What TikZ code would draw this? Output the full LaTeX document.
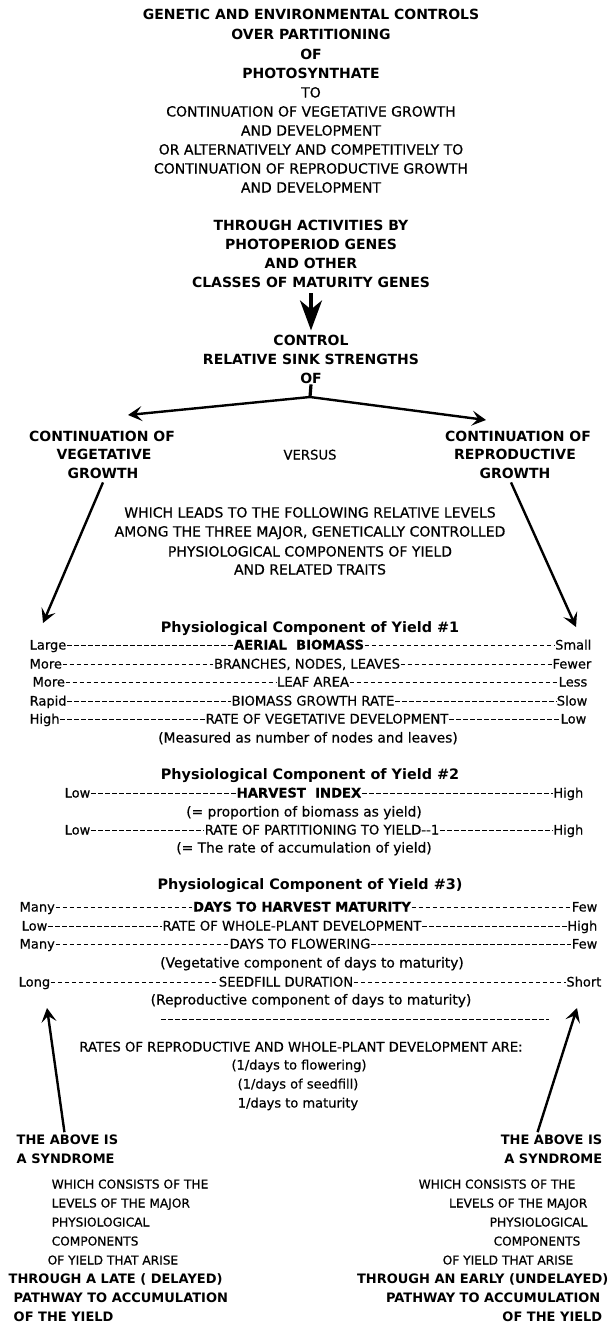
\documentclass[tikz,border=0pt]{standalone}
\usepackage{fontspec}
\setmainfont{DejaVu Sans}
\newfontfamily\medfont[FakeBold=0.5]{DejaVu Sans}
\usetikzlibrary{arrows.meta}
\tikzset{
  tcapL/.style={font=\medfont\fontsize{14}{16}\selectfont, inner sep=0.5pt},
  tcapM/.style={font=\medfont\fontsize{13.2}{15}\selectfont, inner sep=0.5pt},
  tcap/.style={font=\medfont\fontsize{12.2}{14}\selectfont, inner sep=0.5pt},
  tbcapL/.style={font=\fontsize{14}{16}\selectfont\bfseries, inner sep=0.5pt},
  tbcap/.style={font=\fontsize{13}{15}\selectfont\bfseries, inner sep=0.5pt},
  tmix/.style={font=\medfont\fontsize{13.8}{15}\selectfont, inner sep=0.5pt},
  tlab/.style={font=\medfont\fontsize{13}{15}\selectfont, inner sep=0.5pt},
  tbmix/.style={font=\fontsize{14.4}{16}\selectfont\bfseries, inner sep=0.5pt},
  hyph/.style={line width=1pt, dash pattern=on 4.6pt off 2.4pt},
  mainarrow/.style={line width=3.2pt, -{Stealth[length=30pt,width=22pt,inset=9pt]}},
  sidearrow/.style={line width=2.4pt, -{Stealth[length=14pt,width=15pt,inset=6pt]}},
  stub/.style={line width=3.2pt}
}
% name, x, y(center), anchor, style, text
\newcommand{\T}[6]{\node[#5,anchor=#4] (#1) at (#2,{#3+4.5}) {#6};}
% name, y, left x, left text, center x, center text, right x, right text
\newcommand{\R}[8]{%
  \node[tlab,anchor=base west] (#1l) at (#3,{#2+4.5}) {#4};
  \node[tcapM,anchor=base] (#1c) at (#5,{#2+4.5}) {#6};
  \node[tlab,anchor=base east] (#1r) at (#7,{#2+4.5}) {#8};
  \draw[hyph] ([yshift=3.6pt]#1l.base east) -- ([yshift=3.6pt]#1c.base west);
  \draw[hyph] ([yshift=3.6pt]#1c.base east) -- ([yshift=3.6pt]#1r.base west);
}
\begin{document}
\begin{tikzpicture}[x=1pt,y=-1pt]
\useasboundingbox[fill=white] (0,0) rectangle (611,1328);
% title block
\T{t1}{311}{15}{base}{tbcapL}{GENETIC AND ENVIRONMENTAL CONTROLS}
\T{t2}{311}{35}{base}{tbcapL}{OVER PARTITIONING}
\T{t3}{311}{55}{base}{tbcapL}{OF}
\T{t4}{311}{74}{base}{tbcapL}{PHOTOSYNTHATE}
\T{t5}{311}{93}{base}{tcapL}{TO}
\T{t6}{311}{112}{base}{tcapL}{CONTINUATION OF VEGETATIVE GROWTH}
\T{t7}{311}{131}{base}{tcapL}{AND DEVELOPMENT}
\T{t8}{311}{150}{base}{tcapL}{OR ALTERNATIVELY AND COMPETITIVELY TO}
\T{t9}{311}{169}{base}{tcapL}{CONTINUATION OF REPRODUCTIVE GROWTH}
\T{t10}{311}{188}{base}{tcapL}{AND DEVELOPMENT}
\T{g1}{311}{226}{base}{tbcapL}{THROUGH ACTIVITIES BY}
\T{g2}{311}{245}{base}{tbcapL}{PHOTOPERIOD GENES}
\T{g3}{311}{264}{base}{tbcapL}{AND OTHER}
\T{g4}{311}{283}{base}{tbcapL}{CLASSES OF MATURITY GENES}
\T{c1}{311}{341}{base}{tbcapL}{CONTROL}
\T{c2}{311}{360}{base}{tbcapL}{RELATIVE SINK STRENGTHS}
\T{c3}{311}{379}{base}{tbcapL}{OF}
\draw[mainarrow] ([yshift=-5pt]g4.south) -- ([yshift=4pt]c1.north);
\coordinate (br) at (310,397);
\coordinate (tipL) at (128,415);
\coordinate (tipR) at (486,420);
\draw[stub] (c3.south) -- (br);
\draw[sidearrow] (br) -- (tipL);
\draw[sidearrow] (br) -- (tipR);
% two branches
\T{v1}{102}{437}{base}{tbcapL}{CONTINUATION OF}
\T{v2}{104}{455}{base}{tbcapL}{VEGETATIVE}
\T{v3}{103}{474}{base}{tbcapL}{GROWTH}
\T{r1}{518}{437}{base}{tbcapL}{CONTINUATION OF}
\T{r2}{515}{455}{base}{tbcapL}{REPRODUCTIVE}
\T{r3}{515}{474}{base}{tbcapL}{GROWTH}
\T{vs}{310}{455}{base}{tcapM}{VERSUS}
\T{w1}{310}{513}{base}{tcapL}{WHICH LEADS TO THE FOLLOWING RELATIVE LEVELS}
\T{w2}{310}{532}{base}{tcapL}{AMONG THE THREE MAJOR, GENETICALLY CONTROLLED}
\T{w3}{310}{552}{base}{tcapL}{PHYSIOLOGICAL COMPONENTS OF YIELD}
\T{w4}{310}{570}{base}{tcapL}{AND RELATED TRAITS}
\coordinate (tipA) at (43,623);
\coordinate (tipB) at (576,627);
\draw[sidearrow] ([yshift=-3pt]v3.south) -- (tipA);
\draw[sidearrow] ([yshift=-3pt,xshift=-4pt]r3.south) -- (tipB);
% component 1
\T{h1}{310}{628}{base}{tbmix}{Physiological Component of Yield \#1}
\R{a}{645}{29}{Large}{299}{\bfseries AERIAL\ \ BIOMASS}{592}{Small}
\R{b}{664}{29}{More}{307}{BRANCHES, NODES, LEAVES}{592}{Fewer}
\R{c}{682}{32}{More}{313}{LEAF AREA}{588}{Less}
\R{d}{701}{29}{Rapid}{313}{BIOMASS GROWTH RATE}{588}{Slow}
\R{e}{719}{29}{High}{327}{RATE OF VEGETATIVE DEVELOPMENT}{587}{Low}
\T{m1}{308}{738}{base}{tmix}{(Measured as number of nodes and leaves)}
% component 2
\T{h2}{310}{775}{base}{tbmix}{Physiological Component of Yield \#2}
\R{f}{793}{64}{Low}{299}{\bfseries HARVEST\ \ INDEX}{584}{High}
\T{p1}{304}{812}{base}{tmix}{(= proportion of biomass as yield)}
\R{g}{830}{64}{Low}{322}{RATE OF PARTITIONING TO YIELD--1}{584}{High}
\T{p2}{304}{848}{base}{tmix}{(= The rate of accumulation of yield)}
% component 3
\T{h3}{310}{885}{base}{tbmix}{Physiological Component of Yield \#3)}
\R{h}{907}{19}{Many}{302}{\bfseries DAYS TO HARVEST MATURITY}{598}{Few}
\R{i}{926}{21}{Low}{292}{RATE OF WHOLE-PLANT DEVELOPMENT}{598}{High}
\R{j}{944}{19}{Many}{300}{DAYS TO FLOWERING}{598}{Few}
\T{q1}{312}{963}{base}{tmix}{(Vegetative component of days to maturity)}
\R{k}{982}{18}{Long}{286}{SEEDFILL DURATION}{602}{Short}
\T{q2}{311}{1000}{base}{tmix}{(Reproductive component of days to maturity)}
\coordinate (dl) at (161,1019);
\coordinate (dr) at (549,1019);
\draw[hyph] (dl) -- (dr);
\T{s1}{301}{1047}{base}{tcapM}{RATES OF REPRODUCTIVE AND WHOLE-PLANT DEVELOPMENT ARE:}
\T{s2}{299}{1065}{base}{tlab}{(1/days to flowering)}
\T{s3}{298}{1084}{base}{tlab}{(1/days of seedfill)}
\T{s4}{298}{1103}{base}{tlab}{1/days to maturity}
% syndromes
\T{sL1}{16}{1140}{base west}{tbcap}{THE ABOVE IS}
\T{sL2}{16}{1159}{base west}{tbcap}{A SYNDROME}
\T{sL3}{51}{1184}{base west}{tcap}{WHICH CONSISTS OF THE}
\T{sL4}{51}{1203}{base west}{tcap}{LEVELS OF THE MAJOR}
\T{sL5}{51}{1222}{base west}{tcap}{PHYSIOLOGICAL}
\T{sL6}{51}{1241}{base west}{tcap}{COMPONENTS}
\T{sL7}{47}{1260}{base west}{tcap}{OF YIELD THAT ARISE}
\T{sL8}{8}{1279}{base west}{tbcap}{THROUGH A LATE ( DELAYED)}
\T{sL9}{13}{1298}{base west}{tbcap}{PATHWAY TO ACCUMULATION}
\T{sL10}{13}{1317}{base west}{tbcap}{OF THE YIELD}
\T{sR1}{603}{1140}{base east}{tbcap}{THE ABOVE IS}
\T{sR2}{603}{1159}{base east}{tbcap}{A SYNDROME}
\T{sR3}{497}{1184}{base}{tcap}{WHICH CONSISTS OF THE}
\T{sR4}{588}{1203}{base east}{tcap}{LEVELS OF THE MAJOR}
\T{sR5}{588}{1222}{base east}{tcap}{PHYSIOLOGICAL}
\T{sR6}{537}{1241}{base}{tcap}{COMPONENTS}
\T{sR7}{508}{1260}{base}{tcap}{OF YIELD THAT ARISE}
\T{sR8}{609}{1279}{base east}{tbcap}{THROUGH AN EARLY (UNDELAYED)}
\T{sR9}{601}{1298}{base east}{tbcap}{PATHWAY TO ACCUMULATION}
\T{sR10}{603}{1317}{base east}{tbcap}{OF THE YIELD}
\coordinate (tipC) at (47,1008);
\coordinate (tipD) at (577,1008);
\draw[sidearrow] ([xshift=-3pt,yshift=2pt]sL1.north) -- (tipC);
\draw[sidearrow] ([xshift=-14pt,yshift=2pt]sR1.north) -- (tipD);
\end{tikzpicture}
\end{document}
